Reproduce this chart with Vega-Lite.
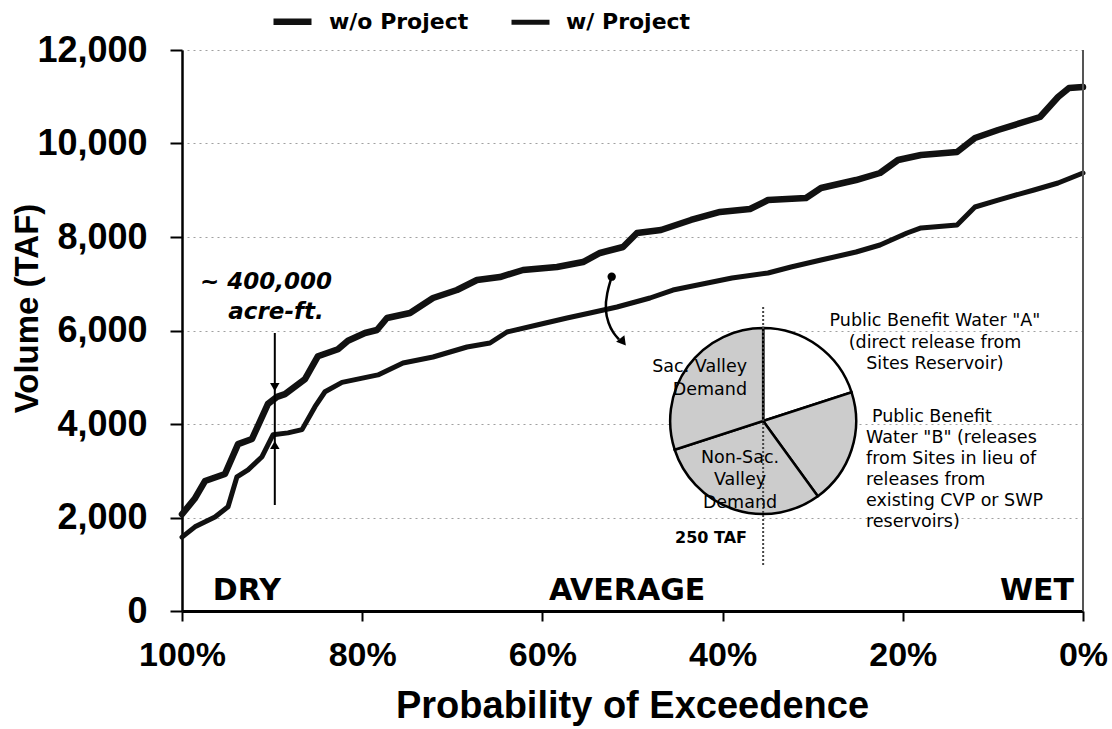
{
  "$schema": "https://vega.github.io/schema/vega-lite/v6.json",
  "width": 901,
  "height": 561,
  "autosize": {"type": "none"},
  "padding": {"left": 182, "top": 50, "right": 29, "bottom": 118},
  "background": "white",
  "config": {"view": {"stroke": null}},
  "datasets": {
    "curves": [
      {"s": "w/o Project", "p": 100, "v": 2070},
      {"s": "w/o Project", "p": 98.6, "v": 2400},
      {"s": "w/o Project", "p": 97.45, "v": 2780},
      {"s": "w/o Project", "p": 95.23, "v": 2930},
      {"s": "w/o Project", "p": 93.78, "v": 3570},
      {"s": "w/o Project", "p": 92.23, "v": 3680},
      {"s": "w/o Project", "p": 90.46, "v": 4430},
      {"s": "w/o Project", "p": 89.46, "v": 4580},
      {"s": "w/o Project", "p": 88.57, "v": 4640},
      {"s": "w/o Project", "p": 86.35, "v": 4960},
      {"s": "w/o Project", "p": 84.91, "v": 5450},
      {"s": "w/o Project", "p": 82.69, "v": 5600},
      {"s": "w/o Project", "p": 81.58, "v": 5780},
      {"s": "w/o Project", "p": 79.69, "v": 5947},
      {"s": "w/o Project", "p": 78.36, "v": 6011},
      {"s": "w/o Project", "p": 77.25, "v": 6267},
      {"s": "w/o Project", "p": 74.69, "v": 6374},
      {"s": "w/o Project", "p": 72.14, "v": 6695},
      {"s": "w/o Project", "p": 69.48, "v": 6866},
      {"s": "w/o Project", "p": 67.26, "v": 7080},
      {"s": "w/o Project", "p": 64.71, "v": 7144},
      {"s": "w/o Project", "p": 62.15, "v": 7294},
      {"s": "w/o Project", "p": 58.38, "v": 7358},
      {"s": "w/o Project", "p": 55.49, "v": 7465},
      {"s": "w/o Project", "p": 53.61, "v": 7658},
      {"s": "w/o Project", "p": 51.05, "v": 7786},
      {"s": "w/o Project", "p": 49.5, "v": 8086},
      {"s": "w/o Project", "p": 46.84, "v": 8150},
      {"s": "w/o Project", "p": 43.51, "v": 8364},
      {"s": "w/o Project", "p": 40.29, "v": 8535},
      {"s": "w/o Project", "p": 36.96, "v": 8599},
      {"s": "w/o Project", "p": 34.96, "v": 8791},
      {"s": "w/o Project", "p": 30.74, "v": 8834},
      {"s": "w/o Project", "p": 29.08, "v": 9048},
      {"s": "w/o Project", "p": 25.19, "v": 9219},
      {"s": "w/o Project", "p": 22.53, "v": 9369},
      {"s": "w/o Project", "p": 20.53, "v": 9647},
      {"s": "w/o Project", "p": 17.98, "v": 9754},
      {"s": "w/o Project", "p": 13.98, "v": 9818},
      {"s": "w/o Project", "p": 11.99, "v": 10118},
      {"s": "w/o Project", "p": 9.43, "v": 10289},
      {"s": "w/o Project", "p": 4.77, "v": 10567},
      {"s": "w/o Project", "p": 2.77, "v": 10995},
      {"s": "w/o Project", "p": 1.55, "v": 11187},
      {"s": "w/o Project", "p": 0, "v": 11209},
      {"s": "w/ Project", "p": 100, "v": 1580},
      {"s": "w/ Project", "p": 98.56, "v": 1800},
      {"s": "w/ Project", "p": 96.34, "v": 2010},
      {"s": "w/ Project", "p": 94.89, "v": 2230},
      {"s": "w/ Project", "p": 93.9, "v": 2870},
      {"s": "w/ Project", "p": 92.67, "v": 3020},
      {"s": "w/ Project", "p": 91.12, "v": 3300},
      {"s": "w/ Project", "p": 89.9, "v": 3770},
      {"s": "w/ Project", "p": 88.24, "v": 3810},
      {"s": "w/ Project", "p": 86.68, "v": 3880},
      {"s": "w/ Project", "p": 85.24, "v": 4370},
      {"s": "w/ Project", "p": 84.13, "v": 4690},
      {"s": "w/ Project", "p": 82.24, "v": 4890},
      {"s": "w/ Project", "p": 78.25, "v": 5050},
      {"s": "w/ Project", "p": 75.47, "v": 5305},
      {"s": "w/ Project", "p": 72.14, "v": 5433},
      {"s": "w/ Project", "p": 68.37, "v": 5647},
      {"s": "w/ Project", "p": 65.82, "v": 5733},
      {"s": "w/ Project", "p": 63.93, "v": 5968},
      {"s": "w/ Project", "p": 60.6, "v": 6118},
      {"s": "w/ Project", "p": 57.27, "v": 6267},
      {"s": "w/ Project", "p": 54.72, "v": 6374},
      {"s": "w/ Project", "p": 51.72, "v": 6503},
      {"s": "w/ Project", "p": 48.06, "v": 6695},
      {"s": "w/ Project", "p": 45.51, "v": 6866},
      {"s": "w/ Project", "p": 38.96, "v": 7123},
      {"s": "w/ Project", "p": 34.96, "v": 7230},
      {"s": "w/ Project", "p": 32.41, "v": 7358},
      {"s": "w/ Project", "p": 29.08, "v": 7508},
      {"s": "w/ Project", "p": 25.19, "v": 7679},
      {"s": "w/ Project", "p": 22.53, "v": 7829},
      {"s": "w/ Project", "p": 19.53, "v": 8086},
      {"s": "w/ Project", "p": 17.98, "v": 8193},
      {"s": "w/ Project", "p": 13.98, "v": 8257},
      {"s": "w/ Project", "p": 11.99, "v": 8642},
      {"s": "w/ Project", "p": 9.43, "v": 8791},
      {"s": "w/ Project", "p": 5.44, "v": 9005},
      {"s": "w/ Project", "p": 2.77, "v": 9155},
      {"s": "w/ Project", "p": 0, "v": 9369}
    ],
    "pie": [
      {"slice": "A", "val": 50, "ord": 1},
      {"slice": "B", "val": 50, "ord": 2},
      {"slice": "NonSac", "val": 75, "ord": 3},
      {"slice": "Sac", "val": 75, "ord": 4}
    ],
    "curve_arrow": [
      {"i": 1, "p": 52.31, "v": 7151},
      {"i": 2, "p": 52.86, "v": 6796},
      {"i": 3, "p": 53.05, "v": 6439},
      {"i": 4, "p": 52.69, "v": 6154},
      {"i": 5, "p": 52.13, "v": 5940},
      {"i": 6, "p": 51.5, "v": 5810}
    ]
  },
  "layer": [
    {
      "data": {"name": "curves"},
      "mark": {"type": "line", "strokeJoin": "round", "strokeCap": "round"},
      "encoding": {
        "x": {
          "field": "p", "type": "quantitative",
          "scale": {"domain": [0, 100], "reverse": true},
          "axis": {
            "title": "Probability of Exceedence",
            "values": [100, 80, 60, 40, 20, 0],
            "labelExpr": "datum.value + '%'",
            "labelFont": "Liberation Sans", "labelFontWeight": "bold", "labelFontSize": 34, "labelColor": "black",
            "labelFlush": false, "labelOverlap": false, "labelBaseline": "middle",
            "tickSize": 10, "tickWidth": 2, "tickColor": "black", "labelPadding": 34,
            "domainColor": "black", "domainWidth": 3,
            "grid": false,
            "titleFont": "Liberation Sans", "titleFontWeight": "bold", "titleFontSize": 38, "titleColor": "black",
            "titleX": 450, "titleY": 95, "titleBaseline": "middle", "titleAlign": "center"
          }
        },
        "y": {
          "field": "v", "type": "quantitative",
          "scale": {"domain": [0, 12000], "nice": false},
          "axis": {
            "title": "Volume (TAF)",
            "values": [0, 2000, 4000, 6000, 8000, 10000, 12000],
            "format": ",d",
            "labelFont": "Liberation Sans", "labelFontWeight": "bold", "labelFontSize": 36, "labelColor": "black",
            "labelBaseline": "middle",
            "tickSize": 12, "tickWidth": 2, "tickColor": "black", "labelPadding": 23,
            "domainColor": "black", "domainWidth": 2.5,
            "grid": true, "gridColor": "#a0a0a0", "gridDash": [2, 4], "gridWidth": 1.2,
            "titleFont": "Liberation Sans", "titleFontWeight": "bold", "titleFontSize": 33, "titleColor": "black",
            "titleX": -155, "titleY": 258, "titleAngle": -90, "titleBaseline": "middle", "titleAlign": "center"
          }
        },
        "color": {
          "field": "s", "type": "nominal",
          "scale": {"domain": ["w/o Project", "w/ Project"], "range": ["#111111", "#111111"]},
          "legend": {
            "orient": "none", "legendX": 88, "legendY": -51, "direction": "horizontal", "title": null,
            "symbolType": "stroke", "symbolSize": 1444,
            "labelFont": "DejaVu Sans", "labelFontWeight": "bold", "labelFontSize": 22, "labelColor": "black",
            "labelOffset": 14, "columnPadding": 32
          }
        },
        "strokeWidth": {
          "field": "s", "type": "nominal",
          "scale": {"domain": ["w/o Project", "w/ Project"], "range": [6.5, 5]},
          "legend": {
            "orient": "none", "legendX": 88, "legendY": -51, "direction": "horizontal", "title": null,
            "symbolType": "stroke", "symbolSize": 1444,
            "labelFont": "DejaVu Sans", "labelFontWeight": "bold", "labelFontSize": 22, "labelColor": "black",
            "labelOffset": 14, "columnPadding": 32
          }
        }
      }
    },
    {
      "data": {"values": [{"p": 0, "v": 0, "v2": 12000}]},
      "mark": {"type": "rule", "stroke": "#555555", "strokeWidth": 2},
      "encoding": {
        "x": {"field": "p", "type": "quantitative", "scale": {"domain": [0, 100], "reverse": true}},
        "y": {"field": "v", "type": "quantitative", "scale": {"domain": [0, 12000], "nice": false}},
        "y2": {"field": "v2"}
      }
    },
    {
      "data": {"name": "pie"},
      "mark": {"type": "arc", "outerRadius": 93, "stroke": "black", "strokeWidth": 2.5},
      "encoding": {
        "x": {"datum": 35.5, "type": "quantitative", "scale": {"domain": [0, 100], "reverse": true}},
        "y": {"datum": 4064, "type": "quantitative", "scale": {"domain": [0, 12000], "nice": false}},
        "theta": {"field": "val", "type": "quantitative", "stack": true},
        "order": {"field": "ord", "type": "quantitative"},
        "fill": {
          "field": "slice", "type": "nominal",
          "scale": {"domain": ["A", "B", "NonSac", "Sac"], "range": ["#ffffff", "#cccccc", "#cccccc", "#cccccc"]},
          "legend": null
        }
      }
    },
    {
      "data": {"values": [{"p": 35.5, "v": 984, "v2": 6545}]},
      "mark": {"type": "rule", "stroke": "#444444", "strokeWidth": 2, "strokeDash": [2, 2]},
      "encoding": {
        "x": {"field": "p", "type": "quantitative", "scale": {"domain": [0, 100], "reverse": true}},
        "y": {"field": "v", "type": "quantitative", "scale": {"domain": [0, 12000], "nice": false}},
        "y2": {"field": "v2"}
      }
    },
    {
      "data": {"values": [{"p": 89.7, "v": 2267, "v2": 5947}]},
      "mark": {"type": "rule", "stroke": "black", "strokeWidth": 2},
      "encoding": {
        "x": {"field": "p", "type": "quantitative", "scale": {"domain": [0, 100], "reverse": true}},
        "y": {"field": "v", "type": "quantitative", "scale": {"domain": [0, 12000], "nice": false}},
        "y2": {"field": "v2"}
      }
    },
    {
      "data": {"values": [{"p": 89.7, "v": 4791, "dir": "down"}, {"p": 89.7, "v": 3551, "dir": "up"}]},
      "mark": {"type": "point", "filled": true, "color": "black", "size": 90, "opacity": 1},
      "encoding": {
        "x": {"field": "p", "type": "quantitative", "scale": {"domain": [0, 100], "reverse": true}},
        "y": {"field": "v", "type": "quantitative", "scale": {"domain": [0, 12000], "nice": false}},
        "shape": {"field": "dir", "type": "nominal", "scale": {"domain": ["down", "up"], "range": ["triangle-down", "triangle-up"]}, "legend": null}
      }
    },
    {
      "data": {"name": "curve_arrow"},
      "mark": {"type": "line", "stroke": "black", "strokeWidth": 2.5, "interpolate": "basis"},
      "encoding": {
        "x": {"field": "p", "type": "quantitative", "scale": {"domain": [0, 100], "reverse": true}},
        "y": {"field": "v", "type": "quantitative", "scale": {"domain": [0, 12000], "nice": false}},
        "order": {"field": "i", "type": "quantitative"}
      }
    },
    {
      "data": {"values": [{"p": 52.31, "v": 7151}]},
      "mark": {"type": "point", "filled": true, "shape": "circle", "color": "black", "size": 70, "opacity": 1},
      "encoding": {
        "x": {"field": "p", "type": "quantitative", "scale": {"domain": [0, 100], "reverse": true}},
        "y": {"field": "v", "type": "quantitative", "scale": {"domain": [0, 12000], "nice": false}}
      }
    },
    {
      "data": {"values": [{"p": 51.05, "v": 5754}]},
      "mark": {"type": "point", "filled": true, "shape": "triangle-down", "angle": -38, "color": "black", "size": 110, "opacity": 1},
      "encoding": {
        "x": {"field": "p", "type": "quantitative", "scale": {"domain": [0, 100], "reverse": true}},
        "y": {"field": "v", "type": "quantitative", "scale": {"domain": [0, 12000], "nice": false}}
      }
    },
    {
      "data": {"values": [{"p": 90.68, "v": 7037, "t": "~ 400,000"}, {"p": 89.57, "v": 6396, "t": "acre-ft."}]},
      "mark": {"type": "text", "font": "DejaVu Sans", "fontWeight": "bold", "fontStyle": "italic", "fontSize": 23, "align": "center", "baseline": "middle", "color": "black"},
      "encoding": {
        "x": {"field": "p", "type": "quantitative", "scale": {"domain": [0, 100], "reverse": true}},
        "y": {"field": "v", "type": "quantitative", "scale": {"domain": [0, 12000], "nice": false}},
        "text": {"field": "t"}
      }
    },
    {
      "data": {"values": [{"p": 92.8, "v": 428, "t": "DRY"}, {"p": 50.6, "v": 428, "t": "AVERAGE"}, {"p": 5.1, "v": 428, "t": "WET"}]},
      "mark": {"type": "text", "font": "DejaVu Sans", "fontWeight": "bold", "fontSize": 30, "align": "center", "baseline": "middle", "color": "black"},
      "encoding": {
        "x": {"field": "p", "type": "quantitative", "scale": {"domain": [0, 100], "reverse": true}},
        "y": {"field": "v", "type": "quantitative", "scale": {"domain": [0, 12000], "nice": false}},
        "text": {"field": "t"}
      }
    },
    {
      "data": {"values": [
        {"p": 16.43, "v": 6203, "t": "Public Benefit Water \"A\""},
        {"p": 16.43, "v": 5733, "t": "(direct release from"},
        {"p": 16.43, "v": 5283, "t": "Sites Reservoir)"},
        {"p": 38.07, "v": 3273, "t": "Non-Sac."},
        {"p": 38.07, "v": 2802, "t": "Valley"},
        {"p": 38.07, "v": 2310, "t": "Demand"}
      ]},
      "mark": {"type": "text", "font": "DejaVu Sans", "fontSize": 17.5, "align": "center", "baseline": "middle", "color": "black"},
      "encoding": {
        "x": {"field": "p", "type": "quantitative", "scale": {"domain": [0, 100], "reverse": true}},
        "y": {"field": "v", "type": "quantitative", "scale": {"domain": [0, 12000], "nice": false}},
        "text": {"field": "t"}
      }
    },
    {
      "data": {"values": [
        {"p": 23.42, "v": 4150, "t": "Public Benefit"},
        {"p": 24.08, "v": 3701, "t": "Water \"B\" (releases"},
        {"p": 24.08, "v": 3252, "t": "from Sites in lieu of"},
        {"p": 24.08, "v": 2803, "t": "releases from"},
        {"p": 24.08, "v": 2354, "t": "existing CVP or SWP"},
        {"p": 24.08, "v": 1905, "t": "reservoirs)"}
      ]},
      "mark": {"type": "text", "font": "DejaVu Sans", "fontSize": 17.5, "align": "left", "baseline": "middle", "color": "black"},
      "encoding": {
        "x": {"field": "p", "type": "quantitative", "scale": {"domain": [0, 100], "reverse": true}},
        "y": {"field": "v", "type": "quantitative", "scale": {"domain": [0, 12000], "nice": false}},
        "text": {"field": "t"}
      }
    },
    {
      "data": {"values": [
        {"p": 37.29, "v": 5219, "t": "Sac. Valley"},
        {"p": 37.29, "v": 4727, "t": "Demand"}
      ]},
      "mark": {"type": "text", "font": "DejaVu Sans", "fontSize": 17.5, "align": "right", "baseline": "middle", "color": "black"},
      "encoding": {
        "x": {"field": "p", "type": "quantitative", "scale": {"domain": [0, 100], "reverse": true}},
        "y": {"field": "v", "type": "quantitative", "scale": {"domain": [0, 12000], "nice": false}},
        "text": {"field": "t"}
      }
    },
    {
      "data": {"values": [{"p": 41.29, "v": 1561, "t": "250 TAF"}]},
      "mark": {"type": "text", "font": "DejaVu Sans", "fontWeight": "bold", "fontSize": 16, "align": "center", "baseline": "middle", "color": "black"},
      "encoding": {
        "x": {"field": "p", "type": "quantitative", "scale": {"domain": [0, 100], "reverse": true}},
        "y": {"field": "v", "type": "quantitative", "scale": {"domain": [0, 12000], "nice": false}},
        "text": {"field": "t"}
      }
    }
  ]
}
